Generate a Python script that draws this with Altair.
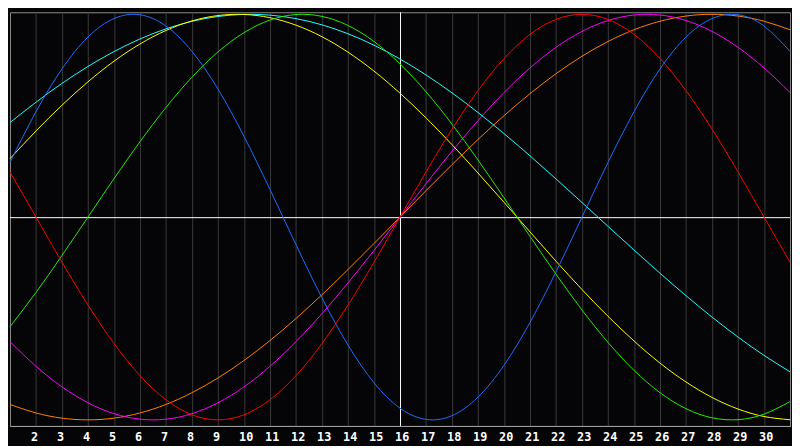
import altair as alt
import pandas as pd

days = list(range(1, 32))

blue = [0.2698, 0.5196, 0.7308, 0.8879, 0.9791, 0.9977, 0.9423, 0.8170, 0.6311, 0.3984,
        0.1362, -0.1362, -0.3984, -0.6311, -0.8170, -0.9423, -0.9977, -0.9791, -0.8879, -0.7308,
        -0.5196, -0.2698, 0.0, 0.2698, 0.5196, 0.7308, 0.8879, 0.9791, 0.9977, 0.9423, 0.8170]

red = [0.2225, 0.0, -0.2225, -0.4339, -0.6235, -0.7818, -0.9010, -0.9749, -1.0, -0.9749,
       -0.9010, -0.7818, -0.6235, -0.4339, -0.2225, 0.0, 0.2225, 0.4339, 0.6235, 0.7818,
       0.9010, 0.9749, 1.0, 0.9749, 0.9010, 0.7818, 0.6235, 0.4339, 0.2225, 0.0, -0.2225]

green = [-0.5406, -0.3717, -0.1893, 0.0, 0.1893, 0.3717, 0.5406, 0.6901, 0.8146, 0.9096,
         0.9718, 0.9989, 0.9898, 0.9450, 0.8660, 0.7557, 0.6182, 0.4582, 0.2817, 0.0951,
         -0.0951, -0.2817, -0.4582, -0.6182, -0.7557, -0.8660, -0.9450, -0.9898, -0.9989, -0.9718, -0.9096]

magenta = [-0.6142, -0.7357, -0.8372, -0.9158, -0.9694, -0.9966, -0.9966, -0.9694, -0.9158, -0.8372,
           -0.7357, -0.6142, -0.4759, -0.3247, -0.1646, 0.0, 0.1646, 0.3247, 0.4759, 0.6142,
           0.7357, 0.8372, 0.9158, 0.9694, 0.9966, 0.9966, 0.9694, 0.9158, 0.8372, 0.7357, 0.6142]

yellow = [0.2881, 0.4245, 0.5517, 0.6671, 0.7687, 0.8536, 0.9204, 0.9675, 0.9940, 0.9993,
          0.9834, 0.9465, 0.8894, 0.8133, 0.7200, 0.6110, 0.4894, 0.3572, 0.2174, 0.0730,
          -0.0730, -0.2174, -0.3572, -0.4894, -0.6110, -0.7200, -0.8133, -0.8894, -0.9465, -0.9834, -0.9993]

orange = [-0.9239, -0.9659, -0.9914, -1.0, -0.9914, -0.9659, -0.9239, -0.8660, -0.7934, -0.7071,
          -0.6088, -0.5, -0.3827, -0.2588, -0.1305, 0.0, 0.1305, 0.2588, 0.3827, 0.5,
          0.6088, 0.7071, 0.7934, 0.8660, 0.9239, 0.9659, 0.9914, 1.0, 0.9914, 0.9659, 0.9239]

cyan = [0.4661, 0.5665, 0.6592, 0.7429, 0.8162, 0.8783, 0.9283, 0.9655, 0.9894, 0.9996,
        0.9960, 0.9788, 0.9480, 0.9041, 0.8478, 0.7797, 0.7010, 0.6126, 0.5157, 0.4117,
        0.3020, 0.1882, 0.0718, -0.0457, -0.1625, -0.2770, -0.3877, -0.4931, -0.5916, -0.6819, -0.7630]

tick_days = list(range(2, 31))

series = {
    "orange": orange,
    "magenta": magenta,
    "cyan": cyan,
    "yellow": yellow,
    "green": green,
    "red": red,
    "blue": blue,
}
colors = {
    "orange": "#ff8000",
    "magenta": "#ff00ff",
    "cyan": "#22ffff",
    "yellow": "#ffff00",
    "green": "#22ee00",
    "red": "#ff0000",
    "blue": "#1e6eff",
}

rows = []
for name, vals in series.items():
    for d, v in zip(days, vals):
        rows.append({"day": d, "value": v, "series": name})
df = pd.DataFrame(rows)

xscale = alt.Scale(domain=[1, 31], nice=False, zero=False)
yscale = alt.Scale(domain=[-1.03, 1.01], nice=False, zero=False)

xaxis = alt.Axis(
    values=tick_days,
    title=None,
    grid=True,
    gridColor="#3a3a3a",
    gridWidth=1,
    ticks=False,
    domain=True,
    domainColor="#a0a0a0",
    domainWidth=1,
    labelColor="#ffffff",
    labelFont="DejaVu Sans Mono",
    labelFontWeight="bold",
    labelFontSize=12,
    labelAlign="left",
    labelOffset=-5.5,
    labelPadding=6,
    labelBaseline="top",
)

base_x = alt.X("day:Q", scale=xscale, axis=xaxis)

lines = alt.Chart(df).mark_line(strokeWidth=1, interpolate="natural").encode(
    x=base_x,
    y=alt.Y("value:Q", scale=yscale, axis=None),
    color=alt.Color(
        "series:N",
        scale=alt.Scale(domain=list(colors.keys()), range=list(colors.values())),
        legend=None,
    ),
    detail="series:N",
)

vline = alt.Chart(pd.DataFrame({"day": [16]})).mark_rule(
    color="#ffffff", strokeWidth=1, xOffset=0.5
).encode(
    x=alt.X("day:Q", scale=xscale, axis=xaxis)
)
hline = alt.Chart(pd.DataFrame({"value": [0]})).mark_rule(
    color="#ffffff", strokeWidth=1, yOffset=0.56
).encode(
    y=alt.Y("value:Q", scale=yscale, axis=None)
)

chart = alt.layer(vline, hline, lines).properties(
    width=792,
    height=420,
    padding=0,
    background="#050508",
).configure_view(
    fill="#050508",
    stroke="#8c8c8c",
    strokeWidth=1,
)

chart.save("out.html", embed_options={"renderer": "svg", "actions": False})
